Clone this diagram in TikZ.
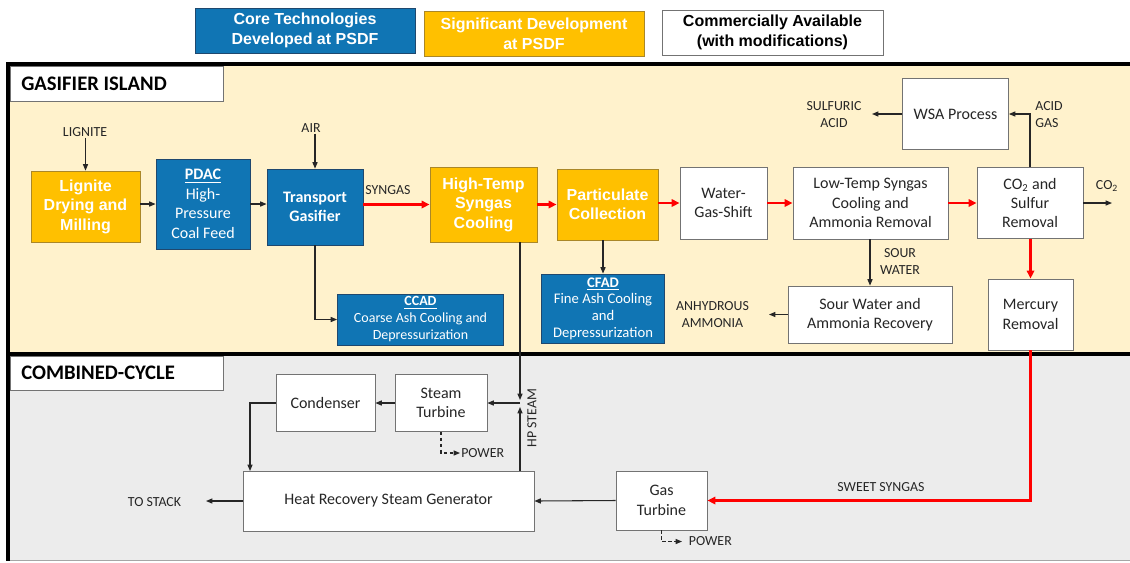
\documentclass[tikz,border=0pt]{standalone}
\usepackage{fontspec}
\setmainfont{Carlito}
\newfontfamily\arialfont{Liberation Sans}
\usetikzlibrary{arrows.meta,positioning}

\definecolor{psdfblue}{RGB}{16,117,180}
\definecolor{coreedge}{RGB}{31,72,110}
\definecolor{psdfgold}{RGB}{255,192,0}
\definecolor{devedge}{RGB}{170,135,40}
\definecolor{islandbg}{RGB}{255,242,204}
\definecolor{cyclebg}{RGB}{236,236,236}
\definecolor{boxgray}{RGB}{115,115,115}
\definecolor{syngasred}{RGB}{255,0,0}
\definecolor{inkgray}{RGB}{38,38,38}

\tikzset{
  sz/.style 2 args={minimum width=#1*0.75pt, minimum height=#2*0.75pt},
  unitbox/.style={draw=boxgray, line width=0.6pt, align=center, inner sep=0.75pt,
    font=\fontsize{12}{14.6}\selectfont},
  corebox/.style={unitbox, draw=coreedge, fill=psdfblue, text=white},
  devbox/.style={unitbox, draw=devedge, fill=psdfgold, text=white,
    font=\arialfont\bfseries\fontsize{12}{14.6}\selectfont},
  combox/.style={unitbox, fill=white, text=inkgray},
  legendbox/.style={unitbox, font=\arialfont\bfseries\fontsize{12}{15}\selectfont},
  streamlbl/.style={align=center, inner sep=0.75pt, text=inkgray,
    font=\fontsize{10.4}{12.75}\selectfont},
  titleframe/.style={draw=boxgray, line width=0.6pt, fill=white},
  titletext/.style={inner sep=0.75pt, font=\bfseries\fontsize{15.5}{18}\selectfont},
  pipe/.style={draw=inkgray, line width=0.8pt, -{Triangle[length=4.8pt,width=3.8pt]}},
  gasflow/.style={draw=syngasred, line width=2pt, -{Triangle[length=6pt,width=5.5pt]}},
  powerlink/.style={pipe, dash pattern=on 2.5pt off 2pt},
}

\begin{document}
\begin{tikzpicture}[x=0.75pt,y=0.75pt,yscale=-1]
\useasboundingbox (0,0) rectangle (1130,562);

% panels
\fill[islandbg] (8,64) rectangle (1140,353);
\fill[cyclebg] (8,353) rectangle (1140,560);
\draw[gray!70, line width=0.75pt] (8,560) -- (1140,560);
\draw[line width=2.4pt] (1140,64) -- (8,64) -- (8,561);
\draw[line width=3pt] (8,353.5) -- (1140,353.5);

\draw[titleframe] (10,66) rectangle (223,101);
\node[titletext, anchor=west] (islandtitle) at (20,84) {GASIFIER ISLAND};
\draw[titleframe] (10,356) rectangle (223,390);
\node[titletext, anchor=west] (cycletitle) at (20,373) {COMBINED-CYCLE};

% legend
\node[legendbox, draw=coreedge, fill=psdfblue, text=white, sz={220}{45}] (legcore) at (305,30.5) {Core Technologies\\Developed at PSDF};
\node[legendbox, draw=devedge, fill=psdfgold, text=white, sz={220}{45}] (legdev) at (534,33.5) {Significant Development\\at PSDF};
\node[legendbox, fill=white, text=black, sz={221}{45}] (legcom) at (772.5,32.5) {Commercially Available\\(with modifications)};

% gasifier island units
\node[devbox, sz={109}{71}] (lignite) at (85.5,206.5) {Lignite\\Drying and\\Milling};
\node[corebox, sz={94}{90}] (pdac) at (203,204) {\textbf{\underline{PDAC}}\\High-\\Pressure\\Coal Feed};
\node[corebox, sz={96}{76}, font=\bfseries\fontsize{12}{14.6}\selectfont] (gasifier) at (315,207) {Transport\\Gasifier};
\node[devbox, sz={107}{75}] (htsc) at (483.5,204.5) {High-Temp\\Syngas\\Cooling};
\node[devbox, sz={101}{71}] (partcol) at (607.5,204.5) {Particulate\\Collection};
\node[combox, sz={87}{72}] (wgs) at (723.5,203) {Water-\\Gas-Shift};
\node[combox, sz={155}{72}] (ltsc) at (870.5,203) {Low-Temp Syngas\\Cooling and\\Ammonia Removal};
\node[combox, sz={106}{71}] (co2rem) at (1030,203) {CO\textsubscript{2} and\\Sulfur\\Removal};
\node[combox, sz={106}{71}] (wsa) at (955.5,114) {WSA Process};
\node[corebox, sz={166}{51}, font=\fontsize{10.5}{12.75}\selectfont] (ccad) at (420.5,319.5) {\textbf{\underline{CCAD}}\\Coarse Ash Cooling and\\Depressurization};
\node[corebox, sz={123}{69}, font=\fontsize{11}{12.5}\selectfont] (cfad) at (603,308.5) {\textbf{\underline{CFAD}}\\Fine Ash Cooling\\and\\Depressurization};
\node[combox, sz={164}{57}] (swar) at (870,314.5) {Sour Water and\\Ammonia Recovery};
\node[combox, sz={85}{71}] (mercury) at (1030.5,314.5) {Mercury\\Removal};

% combined-cycle units
\node[combox, sz={99}{57}] (condenser) at (325.5,403) {Condenser};
\node[combox, sz={92}{57}] (steamturb) at (441,403) {Steam\\Turbine};
\node[combox, sz={291}{60}] (hrsg) at (388.5,501) {Heat Recovery Steam Generator};
\node[combox, sz={91}{59}] (gasturb) at (661.5,500.5) {Gas\\Turbine};

% stream labels
\node[streamlbl] (lignitelbl) at (85,132) {LIGNITE};
\node[streamlbl] (airlbl) at (311,128) {AIR};
\node[streamlbl] (syngaslbl) at (388,190) {SYNGAS};
\node[streamlbl] (sulfuriclbl) at (834,114.5) {SULFURIC\\ACID};
\node[streamlbl, align=left] (acidgaslbl) at (1049,115) {ACID\\GAS};
\node[streamlbl] (co2lbl) at (1107,186) {CO\textsubscript{2}};
\node[streamlbl] (sourlbl) at (900,261.5) {SOUR\\WATER};
\node[streamlbl] (nh3lbl) at (712.5,315) {ANHYDROUS\\AMMONIA};
\node[streamlbl, rotate=90] (hpsteamlbl) at (532,418) {HP STEAM};
\node[streamlbl] (stacklbl) at (154.5,502) {TO STACK};
\node[streamlbl] (sweetlbl) at (881,487) {SWEET SYNGAS};
\node[streamlbl, anchor=west] (pwrst) at (460,453) {POWER};
\node[streamlbl, anchor=west, inner xsep=5pt] (pwrgt) at (682,541.5) {POWER};

% free ends and junctions
\coordinate (sulfout) at (872,114);
\coordinate (co2out) at (1112,203);
\coordinate (nh3out) at (769,314.5);
\coordinate (stackout) at (206,501);
\coordinate (hpjoin) at (520,403);
\coordinate (hpin) at (520,400);
\coordinate (hpout) at (520,407);
\coordinate (condret) at (250,471);

% gas path
\draw[pipe] (lignitelbl.south -| lignite.north) -- (lignite.north);
\draw[pipe] (airlbl.south -| gasifier.north) -- (gasifier.north);
\draw[pipe] (lignite.east |- pdac.west) -- (pdac.west);
\draw[pipe] (pdac.east) -- (pdac.east -| gasifier.west);
\draw[gasflow] (gasifier.east |- htsc.west) -- (htsc.west);
\draw[gasflow] (htsc.east) -- (partcol.west);
\draw[gasflow] (partcol.east |- wgs.west) -- (wgs.west);
\draw[gasflow] (wgs.east) -- (ltsc.west);
\draw[gasflow] (ltsc.east) -- (co2rem.west);
\draw[gasflow] (co2rem.south -| mercury.north) -- (mercury.north);
\draw[gasflow] (mercury.south) |- (gasturb.east);

% side streams
\draw[pipe] (gasifier.south) |- (ccad.west);
\draw[pipe] (partcol.south -| cfad.north) -- (cfad.north);
\draw[pipe] (ltsc.south -| swar.north) -- (swar.north);
\draw[pipe] (swar.west) -- (nh3out);
\draw[pipe] (co2rem.north) |- (wsa.east);
\draw[pipe] (wsa.west) -- (sulfout);
\draw[pipe] (co2rem.east) -- (co2out);

% steam cycle
\draw[pipe] (htsc.south -| hpin) -- (hpin);
\draw[pipe] (hrsg.north -| hpout) -- (hpout);
\draw[pipe] (hpjoin) -- (steamturb.east);
\draw[pipe] (steamturb.west) -- (condenser.east);
\draw[pipe] (condenser.west) -| (condret);
\draw[pipe] (gasturb.west) -- (hrsg.east);
\draw[pipe] (hrsg.west) -- (stackout);
\draw[powerlink] (steamturb.south) |- (pwrst.west);
\draw[powerlink] (gasturb.south) |- (pwrgt.west);

\end{tikzpicture}
\end{document}
